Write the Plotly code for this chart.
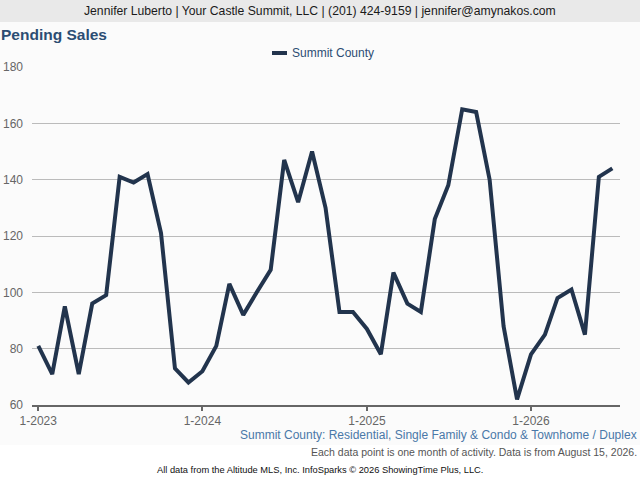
import plotly.graph_objects as go

months = [f"{y}-{m:02d}-01" for y in range(2023, 2027) for m in range(1, 13)][:43]
pending_sales = [81, 71, 95, 71, 96, 99, 141, 139, 142, 121, 73, 68,
                 72, 81, 103, 92, 100, 108, 147, 132, 150, 130, 93, 93,
                 87, 78, 107, 96, 93, 126, 138, 165, 164, 140, 88, 62,
                 78, 85, 98, 101, 85, 141, 144]
tick_vals = ["2023-01-01", "2024-01-01", "2025-01-01", "2026-01-01"]
tick_text = ["1-2023", "1-2024", "1-2025", "1-2026"]
series_name = "Summit County"

FONT = "Liberation Sans, Arial, sans-serif"
LINE = "#22344d"
BLUE = "#2c4d73"

fig = go.Figure()
fig.add_trace(go.Scatter(x=months, y=pending_sales, mode="lines", name=series_name,
                         line=dict(color=LINE, width=4), showlegend=False,
                         hoverinfo="x+y"))

L, R, T, B = 32, 20, 67, 75
pw = 640 - L - R
ph = 480 - T - B

def px(x):
    return (x - L) / pw

def py(y):
    return 1 - (y - T) / ph

shapes = [
    dict(type="rect", xref="paper", yref="paper", x0=px(0), x1=px(640), y0=py(445), y1=py(22),
         fillcolor="#fbfbfb", line=dict(width=0), layer="below"),
    dict(type="rect", xref="paper", yref="paper", x0=px(0), x1=px(640), y0=py(22), y1=py(0),
         fillcolor="#e9e9e9", line=dict(width=0), layer="below"),
    dict(type="line", xref="paper", yref="paper", x0=px(272), x1=px(287), y0=py(53), y1=py(53),
         line=dict(color=LINE, width=4)),
]

annotations = [
    dict(text="Jennifer Luberto | Your Castle Summit, LLC | (201) 424-9159 | jennifer@amynakos.com",
         xref="paper", yref="paper", x=px(320), y=py(11), xanchor="center", yanchor="middle",
         showarrow=False, font=dict(family=FONT, size=12.2, color="#1a1a1a")),
    dict(text="<b>Pending Sales</b>", xref="paper", yref="paper", x=px(-1), y=py(35),
         xanchor="left", yanchor="middle", showarrow=False,
         font=dict(family=FONT, size=15.5, color=BLUE)),
    dict(text=series_name, xref="paper", yref="paper", x=px(290), y=py(53),
         xanchor="left", yanchor="middle", showarrow=False,
         font=dict(family=FONT, size=12, color=BLUE)),
    dict(text="Summit County: Residential, Single Family & Condo & Townhome / Duplex",
         xref="paper", yref="paper", x=px(639), y=py(435), xanchor="right", yanchor="middle",
         showarrow=False, font=dict(family=FONT, size=12, color="#4a78a8")),
    dict(text="Each data point is one month of activity. Data is from August 15, 2026.",
         xref="paper", yref="paper", x=px(639), y=py(452), xanchor="right", yanchor="middle",
         showarrow=False, font=dict(family=FONT, size=10.5, color="#555555")),
    dict(text="All data from the Altitude MLS, Inc. InfoSparks © 2026 ShowingTime Plus, LLC.",
         xref="paper", yref="paper", x=px(320), y=py(470), xanchor="center", yanchor="middle",
         showarrow=False, font=dict(family=FONT, size=9.3, color="#111111")),
]

fig.update_layout(
    width=640, height=480,
    margin=dict(l=L, r=R, t=T, b=B, pad=0, autoexpand=False),
    paper_bgcolor="white", plot_bgcolor="rgba(0,0,0,0)",
    font=dict(family=FONT, color="#666666"),
    shapes=shapes, annotations=annotations,
    xaxis=dict(type="date", range=["2022-12-18", "2026-07-18"],
               tickvals=tick_vals, ticktext=tick_text, automargin=False,
               showgrid=False, zeroline=False,
               showline=True, linecolor="#666666", linewidth=2,
               ticks="outside", ticklen=4, tickwidth=2, tickcolor="#666666",
               tickfont=dict(size=12, color="#666666")),
    yaxis=dict(range=[60, 180], tickvals=[60, 80, 100, 120, 140, 160, 180],
               automargin=False,
               showgrid=True, gridcolor="#bbbbbb", gridwidth=1, zeroline=False,
               showline=False, ticks="", ticklabelstandoff=8,
               tickfont=dict(size=12, color="#666666")),
)

fig.write_html("out.html", config={"responsive": False, "displayModeBar": False},
               post_script="document.body.style.margin='0';document.body.style.overflow='hidden';")
